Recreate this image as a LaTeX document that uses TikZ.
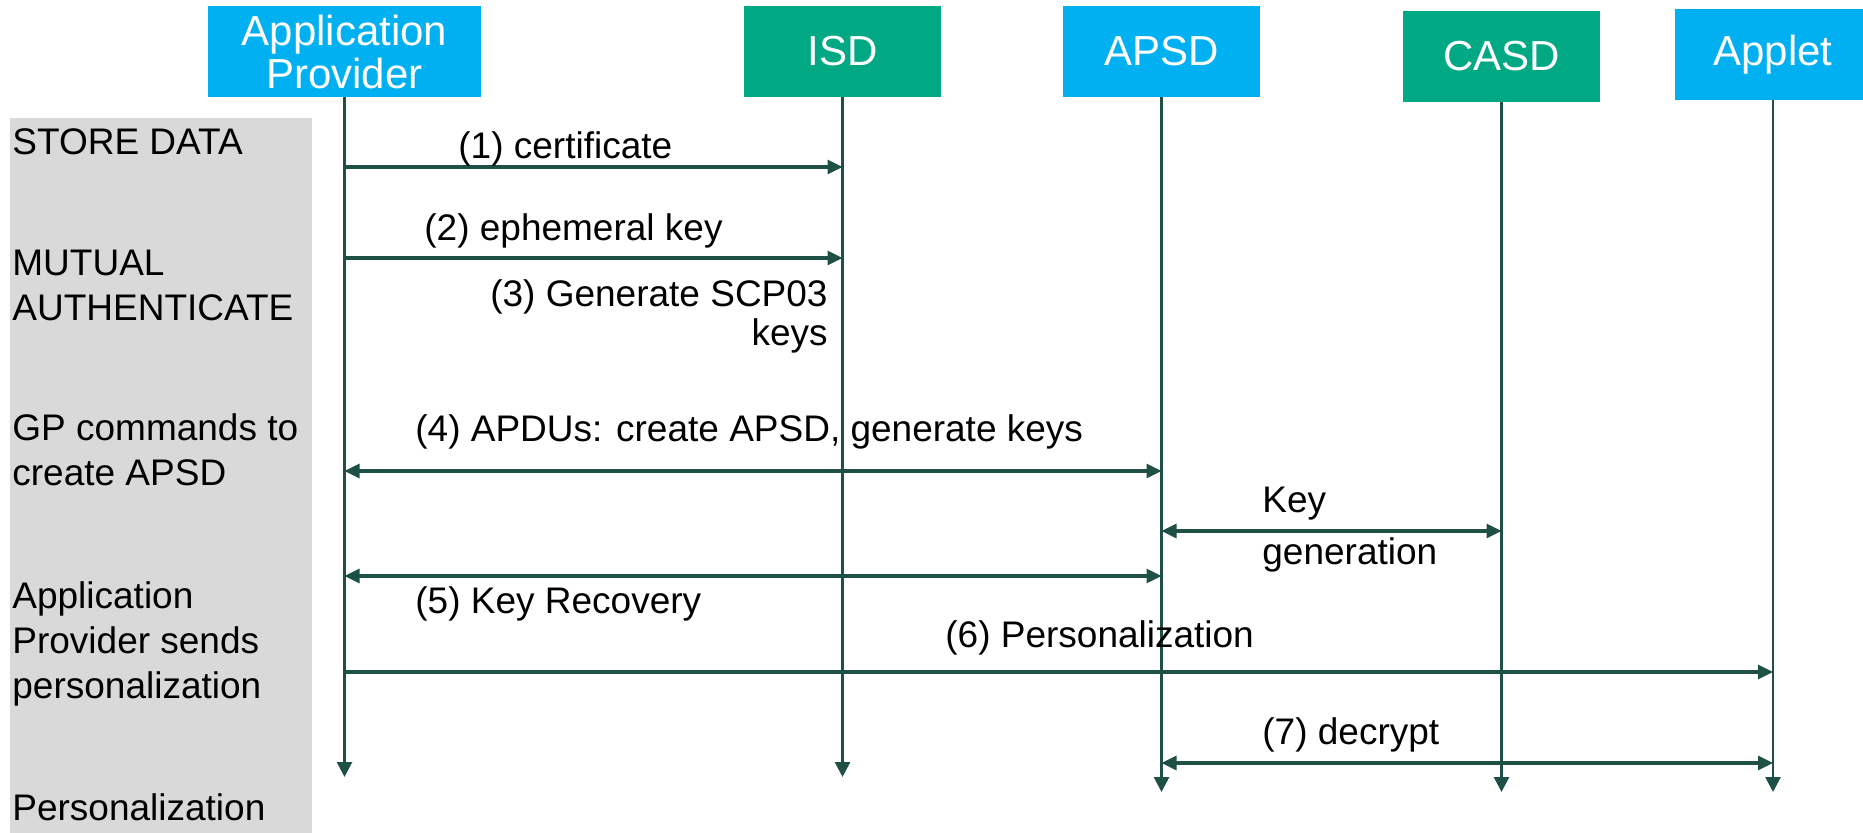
\documentclass[tikz,border=0pt]{standalone}
\usepackage{fontspec}
\setmainfont{Liberation Sans}
\usetikzlibrary{arrows.meta}
\definecolor{lane}{HTML}{D9D9D9}
\definecolor{partyblue}{HTML}{00B0F0}
\definecolor{partygreen}{HTML}{00A884}
\definecolor{wire}{HTML}{1E5045}
\begin{document}
\begin{tikzpicture}[x=0.5pt,y=-0.5pt,
  party/.style={minimum width=98.5pt, minimum height=45.5pt, inner sep=0pt,
    text=white, align=center, font=\fontsize{21}{21.5}\selectfont},
  phase/.style={anchor=base west, inner sep=0pt, align=left,
    font=\fontsize{18.5}{22.5}\selectfont},
  note/.style={inner sep=0pt, font=\fontsize{18.5}{22.5}\selectfont},
  life/.style={draw=wire, line width=1.4pt, -{Triangle[length=7.5pt,width=7.5pt]}},
  msg/.style={draw=wire, line width=1.6pt},
  tip/.style={-{Triangle[length=7.5pt,width=7pt]}},
  tips/.style={{Triangle[length=7.5pt,width=7pt]}-{Triangle[length=7.5pt,width=7pt]}}]
\useasboundingbox (0,0) rectangle (1863,833);

% phase column (multi-line nodes are anchored on the baseline of their last line)
\fill[lane] (10,118) rectangle (312,833);
\node[phase] (p1) at (12,155) {STORE DATA};
\node[phase] (p2) at (12,321) {MUTUAL\\AUTHENTICATE};
\node[phase] (p3) at (12,486) {GP commands to\\create APSD};
\node[phase] (p4) at (12,698) {Application\\Provider sends\\personalization};
\node[phase] (p5) at (12,820) {Personalization};

% participants
\node[party, fill=partyblue, minimum width=136.5pt] (ap) at (344.5,51.5) {Application\\Provider};
\node[party, fill=partygreen] (isd) at (842.5,51.5) {ISD};
\node[party, fill=partyblue] (apsd) at (1161.5,51.5) {APSD};
\node[party, fill=partygreen] (casd) at (1501.5,56.5) {CASD};
\node[party, fill=partyblue] (applet) at (1773,54.5) {Applet};

% lifelines
\coordinate (endA) at (0,777);
\coordinate (endB) at (0,792);
\draw[life] (ap.south) -- (ap.south |- endA);
\draw[life] (isd.south) -- (isd.south |- endA);
\draw[life] (apsd.south) -- (apsd.south |- endB);
\draw[life] (casd.south) -- (casd.south |- endB);
\draw[life] (applet.south) -- (applet.south |- endB);

% message levels
\coordinate (m1) at (0,167);
\coordinate (m2) at (0,258);
\coordinate (m4) at (0,471);
\coordinate (mk) at (0,531);
\coordinate (m5) at (0,576);
\coordinate (m6) at (0,672);
\coordinate (m7) at (0,763);

\draw[msg, tip]  (ap |- m1) -- (isd |- m1);
\draw[msg, tip]  (ap |- m2) -- (isd |- m2);
\draw[msg, tips] (ap |- m4) -- (apsd |- m4);
\draw[msg, tips] (apsd |- mk) -- (casd |- mk);
\draw[msg, tips] (ap |- m5) -- (apsd |- m5);
\draw[msg, tip]  (ap |- m6) -- (applet |- m6);
\draw[msg, tips] (apsd |- m7) -- (applet |- m7);

% message labels
\node[note, anchor=base west] (l1) at (458,159) {(1) certificate};
\node[note, anchor=base west] (l2) at (424,241) {(2) ephemeral key};
\node[note, anchor=base east, align=right, font=\fontsize{18.5}{19.5}\selectfont] (l3) at (828,346) {(3) Generate SCP03\\keys};
\node[note, anchor=base west] (l4) at (415,442) {(4) APDUs: create APSD, generate keys};
\node[note, anchor=base west, align=left, font=\fontsize{18.5}{26}\selectfont] (lk) at (1262,565) {Key\\generation};
\node[note, anchor=base west] (l5) at (415,614) {(5) Key Recovery};
\node[note, anchor=base west] (l6) at (945,647) {(6) Personalization};
\node[note, anchor=base west] (l7) at (1262,744) {(7) decrypt};
\end{tikzpicture}
\end{document}
